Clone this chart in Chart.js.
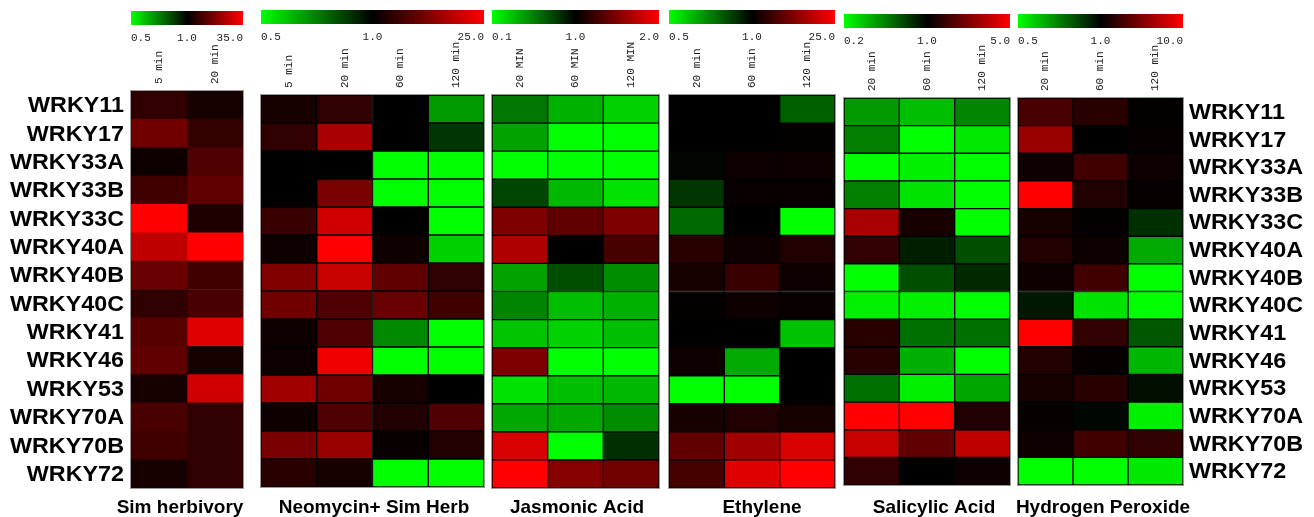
<!DOCTYPE html>
<html lang="en">
<head>
<meta charset="UTF-8">
<title>WRKY expression heatmaps</title>
<script src="https://cdn.jsdelivr.net/npm/chart.js"></script>
<style>
  body { margin: 0; background: #fff; }
  #wrap { position: relative; width: 1314px; height: 517px; overflow: hidden; }
  #wrap canvas { position: absolute; left: 0; top: 0; }
</style>
</head>
<body>
<div id="wrap"></div>
<script>
// genes, top to bottom
const genes = ['WRKY11', 'WRKY17', 'WRKY33A', 'WRKY33B', 'WRKY33C', 'WRKY40A', 'WRKY40B',
  'WRKY40C', 'WRKY41', 'WRKY46', 'WRKY53', 'WRKY70A', 'WRKY70B', 'WRKY72'];

// fold change vs. control, one array per time point
const simHerbTimes = ['5 min', '20 min'];
const simHerbRange = [0.5, 35.0];
const simHerb5  = [1.96, 4.78, 1.24, 2.43, 35.0, 14.4, 4.30, 1.96, 3.35, 3.86, 1.38, 2.71, 2.43, 1.38];
const simHerb20 = [1.38, 2.04, 3.01, 3.86, 1.53, 35.0, 2.43, 2.71, 22.8, 1.38, 18.4, 1.96, 1.96, 1.96];

const neoTimes = ['5 min', '20 min', '60 min', '120 min'];
const neoRange = [0.5, 25.0];
const neo5   = [1.34, 1.84, 1.00, 1.00, 2.03, 1.21, 5.00, 4.12, 1.21, 1.21, 7.60, 1.21, 4.54, 1.67];
const neo20  = [1.84, 8.37, 1.00, 4.54, 14.0, 25.0, 12.3, 2.71, 2.71, 20.6, 4.12, 2.71, 6.90, 1.34];
const neo60  = [1.00, 1.00, 0.50, 0.50, 1.00, 1.21, 3.40, 3.74, 0.69, 0.50, 1.34, 1.50, 1.10, 0.50];
const neo120 = [0.66, 0.86, 0.50, 0.50, 0.50, 0.57, 1.84, 2.24, 0.50, 0.50, 1.00, 2.71, 1.50, 0.50];

const jaTimes = ['20 MIN', '60 MIN', '120 MIN'];
const jaRange = [0.1, 2.0];
const ja20  = [0.34, 0.23, 0.10, 0.53, 1.41, 1.61, 0.23, 0.30, 0.17, 1.41, 0.13, 0.22, 1.80, 2.00];
const ja60  = [0.20, 0.10, 0.10, 0.19, 1.30, 1.00, 0.49, 0.18, 0.15, 0.10, 0.18, 0.22, 0.10, 1.44];
const ja120 = [0.15, 0.10, 0.10, 0.13, 1.41, 1.21, 0.28, 0.20, 0.18, 0.10, 0.19, 0.28, 0.65, 1.36];

const ethTimes = ['20 min', '60 min', '120 min'];
const ethRange = [0.5, 25.0];
const eth20  = [1.00, 1.00, 0.98, 0.86, 0.75, 1.67, 1.34, 1.05, 1.00, 1.21, 0.50, 1.34, 3.40, 2.46];
const eth60  = [1.00, 1.00, 1.21, 1.10, 1.00, 1.21, 2.03, 1.21, 1.00, 0.63, 0.50, 1.50, 7.60, 17.0];
const eth120 = [0.77, 1.05, 1.21, 1.10, 0.50, 1.50, 1.21, 1.10, 0.59, 1.00, 1.00, 1.34, 15.4, 25.0];

const saTimes = ['20 min', '60 min', '120 min'];
const saRange = [0.2, 5.0];
const sa20  = [0.38, 0.45, 0.20, 0.45, 2.89, 1.36, 0.20, 0.22, 1.29, 1.29, 0.49, 5.00, 3.51, 1.36];
const sa60  = [0.30, 0.20, 0.22, 0.24, 1.16, 0.82, 0.61, 0.22, 0.49, 0.33, 0.22, 5.00, 1.84, 1.00];
const sa120 = [0.43, 0.23, 0.20, 0.20, 0.20, 0.61, 0.77, 0.20, 0.49, 0.20, 0.35, 1.22, 3.34, 1.10];

const h2o2Times = ['20 min', '60 min', '120 min'];
const h2o2Range = [0.5, 10.0];
const h2o220  = [1.91, 3.98, 1.15, 10.0, 1.23, 1.33, 1.15, 0.94, 10.0, 1.33, 1.23, 1.07, 1.15, 0.50];
const h2o260  = [1.45, 1.00, 1.78, 1.33, 1.04, 1.15, 1.78, 0.54, 1.55, 1.07, 1.45, 0.98, 1.78, 0.50];
const h2o2120 = [1.04, 1.07, 1.15, 1.07, 0.88, 0.63, 0.50, 0.50, 0.79, 0.61, 0.96, 0.52, 1.55, 0.53];

const W = 1314, H = 517;

// box = [left, top, right, bottom] of the cell area, barTop = colour key top
const panels = [
  { title: 'Sim herbivory', times: simHerbTimes, cols: [simHerb5, simHerb20], range: simHerbRange,
    box: [131, 91, 243, 488], barTop: 11, grid: false, names: 'left', titleX: 180 },
  { title: 'Neomycin+ Sim Herb', times: neoTimes, cols: [neo5, neo20, neo60, neo120], range: neoRange,
    box: [261, 95, 484, 487], barTop: 10, grid: true, titleX: 374 },
  { title: 'Jasmonic Acid', times: jaTimes, cols: [ja20, ja60, ja120], range: jaRange,
    box: [492, 95, 659, 488], barTop: 10, grid: true, titleX: 577 },
  { title: 'Ethylene', times: ethTimes, cols: [eth20, eth60, eth120], range: ethRange,
    box: [669, 95, 835, 488], barTop: 10, grid: true, titleX: 762 },
  { title: 'Salicylic Acid', times: saTimes, cols: [sa20, sa60, sa120], range: saRange,
    box: [844, 98, 1010, 485], barTop: 14, grid: true, titleX: 934 },
  { title: 'Hydrogen Peroxide', times: h2o2Times, cols: [h2o220, h2o260, h2o2120], range: h2o2Range,
    box: [1018, 98, 1183, 485], barTop: 14, grid: true, names: 'right', titleX: 1103 }
];

// green (down) -> black (1.0) -> red (up), log-scaled to the panel's key
function heatColor(v, lo, hi) {
  if (v >= 1) {
    const t = Math.min(1, Math.log(v) / Math.log(hi));
    return `rgb(${Math.round(255 * t)},0,0)`;
  }
  const t = Math.min(1, Math.log(v) / Math.log(lo));
  return `rgb(0,${Math.round(255 * t)},0)`;
}

// colour key, time labels, gene names and panel title
function decor(p) {
  return {
    id: 'decor',
    afterDatasetsDraw(chart) {
      const ctx = chart.ctx, a = chart.chartArea;
      const xs = chart.scales.x, ys = chart.scales.y;
      ctx.save();

      ctx.strokeStyle = '#9a9a9a';
      ctx.lineWidth = 1;
      ctx.strokeRect(a.left - 0.5, a.top - 0.5, a.right - a.left + 1, a.bottom - a.top + 1);

      const g = ctx.createLinearGradient(a.left, 0, a.right, 0);
      g.addColorStop(0, '#00ff00');
      g.addColorStop(0.5, '#000000');
      g.addColorStop(1, '#ff0000');
      ctx.fillStyle = g;
      ctx.fillRect(a.left, p.barTop, a.right - a.left, 14);

      ctx.fillStyle = '#222';
      ctx.font = '11px "Liberation Mono", monospace';
      ctx.textBaseline = 'alphabetic';
      const ly = p.barTop + 30;
      ctx.textAlign = 'left';
      ctx.fillText(p.range[0].toFixed(1), a.left, ly);
      ctx.textAlign = 'center';
      ctx.fillText('1.0', (a.left + a.right) / 2, ly);
      ctx.textAlign = 'right';
      ctx.fillText(p.range[1].toFixed(1), a.right, ly);

      ctx.textAlign = 'left';
      ctx.textBaseline = 'middle';
      p.times.forEach((t, c) => {
        ctx.save();
        ctx.translate(xs.getPixelForValue(c + 0.5), a.top - 7);
        ctx.rotate(-Math.PI / 2);
        ctx.fillText(t, 0, 0);
        ctx.restore();
      });

      ctx.fillStyle = '#000';
      if (p.names) {
        // gene names are set a little wide
        ctx.font = 'bold 22px "Liberation Sans", Arial, sans-serif';
        ctx.textAlign = p.names === 'left' ? 'right' : 'left';
        const nx = p.names === 'left' ? a.left - 7 : a.right + 6;
        genes.forEach((gname, i) => {
          ctx.save();
          ctx.translate(nx, ys.getPixelForValue(i) + 1);
          ctx.scale(1.06, 1);
          ctx.fillText(gname, 0, 0);
          ctx.restore();
        });
      }

      ctx.font = 'bold 19px "Liberation Sans", Arial, sans-serif';
      ctx.textAlign = 'center';
      ctx.textBaseline = 'alphabetic';
      ctx.fillText(p.title, p.titleX, 513);
      ctx.restore();
    }
  };
}

const wrap = document.getElementById('wrap');
panels.forEach(p => {
  const canvas = document.createElement('canvas');
  canvas.width = W;
  canvas.height = H;
  wrap.appendChild(canvas);

  const datasets = p.cols.map((vals, c) => ({
    data: vals.map(() => [c, c + 1]),
    backgroundColor: vals.map(v => heatColor(v, p.range[0], p.range[1])),
    borderColor: '#000',
    borderWidth: p.grid ? 1 : 0,
    borderSkipped: false,
    grouped: false,
    barPercentage: 1,
    categoryPercentage: 1
  }));

  new Chart(canvas, {
    type: 'bar',
    data: { labels: genes, datasets },
    options: {
      indexAxis: 'y',
      responsive: false,
      animation: false,
      events: [],
      layout: { padding: { left: p.box[0], top: p.box[1], right: W - p.box[2], bottom: H - p.box[3] } },
      scales: {
        x: { type: 'linear', min: 0, max: p.cols.length, display: false },
        y: { display: false }
      },
      plugins: { legend: { display: false }, tooltip: { enabled: false } }
    },
    plugins: [decor(p)]
  });
});
</script>
</body>
</html>
